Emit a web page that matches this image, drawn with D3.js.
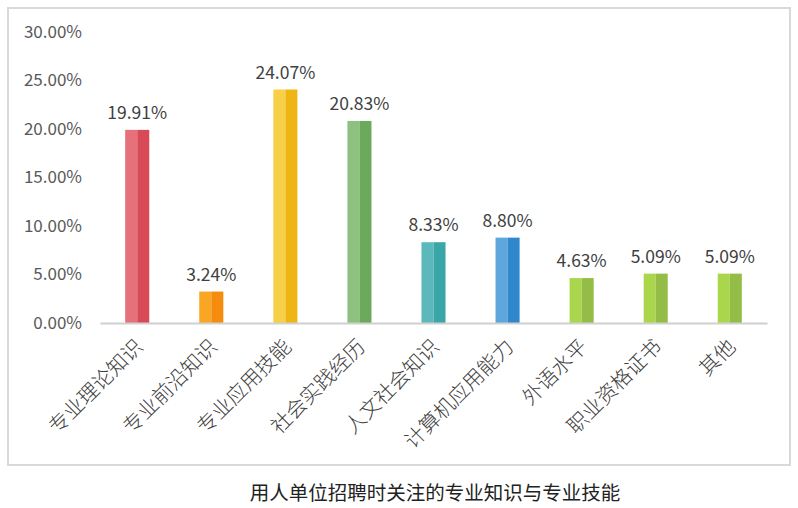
<!DOCTYPE html>
<html><head><meta charset="utf-8">
<script src="https://cdn.jsdelivr.net/npm/d3@7"></script>
<style>body{margin:0;background:#fff;}svg{display:block;}</style>
</head><body>
<svg id="c" width="798" height="508"></svg>
<script>
const categories = ["专业理论知识","专业前沿知识","专业应用技能","社会实践经历","人文社会知识","计算机应用能力","外语水平","职业资格证书","其他"];
const values = [19.91, 3.24, 24.07, 20.83, 8.33, 8.80, 4.63, 5.09, 5.09];
const lightColors = ["#E6717B","#F9A623","#F8D048","#8EC07F","#5CB9BB","#5DA7DD","#A9D64B","#A9D64B","#A9D64B"];
const darkColors  = ["#D94A57","#F58C0D","#EEB514","#6AAA5A","#3AA6A8","#2E88CB","#93BD47","#93BD47","#93BD47"];
const yTicks = [0,5,10,15,20,25,30];
const title = "用人单位招聘时关注的专业知识与专业技能";

const svg = d3.select("#c");
const font = "'Noto Sans CJK SC','Noto Sans',sans-serif";
svg.append("rect").attr("x",8).attr("y",8).attr("width",782).attr("height",457)
  .attr("fill","#fff").attr("stroke","#d9d9d9").attr("stroke-width",2);

const x = d3.scaleBand().domain(categories).range([100,767]).paddingInner(0.675).paddingOuter(0.34);
const y = d3.scaleLinear().domain([0,30]).range([323,32]);

const yAxis = d3.axisLeft(y).tickValues(yTicks).tickSize(0).tickPadding(18).tickFormat(d=>d.toFixed(2)+"%");
const gy = svg.append("g").attr("transform","translate(100,0)").call(yAxis);
gy.select(".domain").remove();
gy.selectAll("text").attr("font-family",font).attr("font-size",17).attr("fill","#595959");

const bw = x.bandwidth();
const g = svg.append("g");
categories.forEach((c,i)=>{
  const v = values[i];
  g.append("rect").attr("x",x(c)).attr("y",y(v)).attr("width",bw/2).attr("height",y(0)-y(v)).attr("fill",lightColors[i]);
  g.append("rect").attr("x",x(c)+bw/2).attr("y",y(v)).attr("width",bw/2).attr("height",y(0)-y(v)).attr("fill",darkColors[i]);
  g.append("text").attr("x",x(c)+bw/2).attr("y",y(v)-11).attr("text-anchor","middle")
    .attr("font-family",font).attr("font-size",17.5).attr("fill","#404040").text(v.toFixed(2)+"%");
});

const xAxis = d3.axisBottom(x).tickSize(0).tickPadding(0);
const gx = svg.append("g").attr("transform","translate(0,323)").call(xAxis);
gx.select(".domain").attr("stroke","#d0d0d0").attr("stroke-width",2);
gx.selectAll("text").attr("font-family",font).attr("font-size",20.5).attr("font-weight",300).attr("fill","#404040")
  .attr("text-anchor","end").attr("dy","0.35em")
  .attr("transform","translate(2,20) rotate(-45)");

svg.append("text").attr("x",435).attr("y",500).attr("text-anchor","middle")
  .attr("font-family",font).attr("font-size",19.5).attr("fill","#222").text(title);
</script>
</body></html>
